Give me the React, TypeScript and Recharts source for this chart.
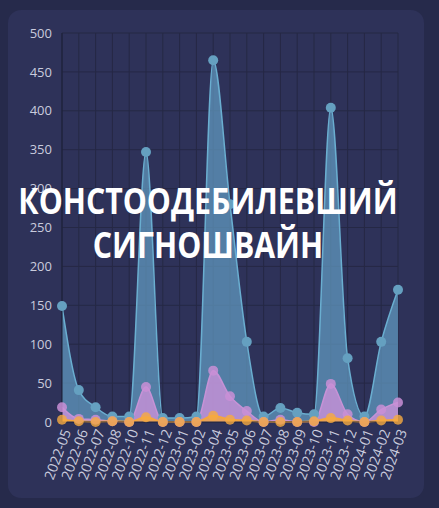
import React from 'react';
import { AreaChart, Area, XAxis, YAxis, CartesianGrid } from 'recharts';

const categories = ['2022-05','2022-06','2022-07','2022-08','2022-10','2022-11','2022-12','2023-01','2023-02','2023-04','2023-05','2023-06','2023-07','2023-08','2023-09','2023-10','2023-11','2023-12','2024-01','2024-02','2024-03'];
const seriesBlue = [149,41,19,7,7,347,5,5,7,465,280,103,7,18,12,10,404,82,7,103,170];
const seriesPurple = [19,4,3,1,0,45,0,0,0,66,33,14,0,3,0,0,49,10,0,16,25];
const seriesOrange = [3,1,0,1,0,6,0,0,0,8,3,2,0,0,0,1,5,2,0,2,3];
const yTicks = [0,50,100,150,200,250,300,350,400,450,500];
const titleLines = ['КОНСТООДЕБИЛЕВШИЙ', 'СИГНОШВАЙН'];

const data = categories.map((c, i) => ({ month: c, a: seriesBlue[i], b: seriesPurple[i], c: seriesOrange[i] }));

const yTickStyle = { fill: '#c9cbdd', fontSize: 13, fontFamily: '"Open Sans", sans-serif' };
const xTickStyle = { fill: '#c9cbdd', fontSize: 14, fontFamily: '"Open Sans", sans-serif' };

export default function App() {
  return (
    <div style={{ position: 'fixed', left: 0, top: 0, width: 439, height: 508, background: '#262a4b', overflow: 'hidden' }}>
      <div style={{ position: 'absolute', left: 8, top: 10, width: 416, height: 488, background: '#2e3259', borderRadius: 13 }}>
        <AreaChart width={416} height={488} data={data} margin={{ top: 23, right: 26, bottom: 16, left: 0 }}>
          <CartesianGrid stroke="#252845" strokeWidth={1} />
          <XAxis
            dataKey="month"
            interval={0}
            height={60}
            angle={-70}
            textAnchor="end"
            tick={xTickStyle}
            tickLine={false}
            tickSize={0}
            tickMargin={6}
            axisLine={{ stroke: '#252845' }}
          />
          <YAxis
            width={54}
            domain={[0, 500]}
            ticks={yTicks}
            tick={yTickStyle}
            tickLine={false}
            tickSize={0}
            tickMargin={10}
            axisLine={{ stroke: '#1d2038' }}
          />
          <Area type="monotone" dataKey="a" stroke="#6aaed0" strokeWidth={1.5} fill="#639bc2" fillOpacity={0.72}
            dot={{ r: 5, fill: '#65a0c0', stroke: 'none', fillOpacity: 1 }} activeDot={false} isAnimationActive={false} />
          <Area type="monotone" dataKey="b" stroke="#c692d6" strokeWidth={1.5} fill="#c391d6" fillOpacity={0.85}
            dot={{ r: 5, fill: '#c98fd6', stroke: 'none' }} activeDot={false} isAnimationActive={false} />
          <Area type="monotone" dataKey="c" stroke="#f4a63e" strokeWidth={2} fill="#f4a63e" fillOpacity={0.8}
            dot={{ r: 5, fill: '#f6aa40', stroke: 'none' }} activeDot={false} isAnimationActive={false} />
        </AreaChart>
      </div>
      <div style={{ position: 'absolute', left: -92, top: 179, width: 600, textAlign: 'center', color: '#ffffff', fontFamily: '"Open Sans", sans-serif', fontWeight: 700, fontSize: 35, lineHeight: '44px', whiteSpace: 'nowrap', transform: 'scaleX(0.865)', transformOrigin: '50% 50%' }}>
        {titleLines.map((t) => (<div key={t}>{t}</div>))}
      </div>
    </div>
  );
}
